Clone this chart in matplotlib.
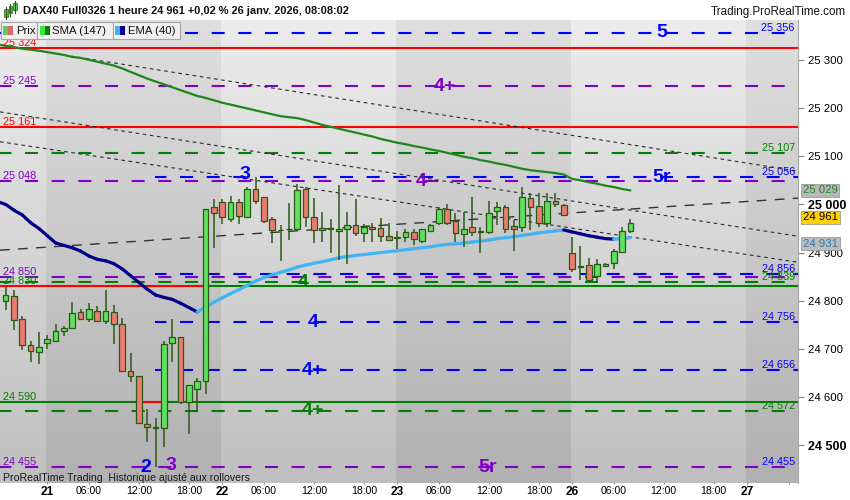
import matplotlib
matplotlib.use("Agg")
import matplotlib.pyplot as plt
import numpy as np
from matplotlib.collections import LineCollection
from matplotlib.patches import Rectangle
from matplotlib.transforms import blended_transform_factory
from matplotlib.ticker import FuncFormatter, FixedLocator

plt.rcParams['font.family'] = ['Liberation Sans', 'DejaVu Sans']
plt.rcParams['lines.scale_dashes'] = False

# ---------------- data ----------------
# hourly bars, index 0 = 21 Jan 01:00 (21 bars per trading day)
bar_idx = list(range(-5, 71))
opens = [24800, 24811, 24762, 24708, 24694,
         24712, 24716, 24737, 24743, 24776, 24762, 24778, 24758, 24776, 24751,
         24655, 24643, 24544, 24537, 24536, 24712, 24724, 24591, 24618, 24633, 24994,
         25004, 24969, 25006, 24973, 25031, 25015, 24969, 24946, 24948, 24950,
         25031, 24973, 24947, 24952, 24945, 24950, 24957, 24940, 24954, 24952, 24934,
         24931, 24933, 24942, 24925, 24945, 24961, 24990, 24966, 24938, 24953,
         24943, 24943, 24987, 24995, 24955, 24954, 25013, 24997, 24961, 25008, 24999,
         24900, 24870, 24874, 24851, 24873, 24878, 24902, 24945]
highs = [24828, 24822, 24768, 24717, 24735,
         24729, 24752, 24748, 24797, 24782, 24795, 24789, 24822, 24791, 24764,
         24691, 24643, 24576, 24556, 24716, 24762, 24724, 24625, 24639, 24990, 25011,
         25011, 25017, 25011, 25036, 25056, 25015, 24973, 24957, 25002, 25042,
         25036, 25013, 24985, 24969, 25040, 24985, 25011, 24959, 24962, 24971, 24961,
         24945, 24950, 24950, 24950, 24959, 24995, 25001, 24982, 24985, 25015,
         24953, 25008, 25006, 24999, 24968, 25036, 25024, 25023, 25023, 25024, 25001,
         24932, 24914, 24888, 24886, 24878, 24908, 24954, 24969]
lows = [24781, 24739, 24698, 24674, 24668,
        24701, 24716, 24728, 24743, 24761, 24755, 24755, 24751, 24710, 24655,
        24632, 24544, 24508, 24455, 24496, 24674, 24586, 24523, 24569, 24606, 24910,
        24959, 24963, 24960, 24973, 25000, 24961, 24919, 24883, 24926, 24950,
        24954, 24919, 24923, 24900, 24885, 24876, 24935, 24923, 24923, 24923, 24926,
        24908, 24923, 24916, 24920, 24944, 24957, 24958, 24923, 24912, 24935,
        24899, 24938, 24957, 24941, 24904, 24943, 24947, 24953, 24954, 24994, 24976,
        24860, 24843, 24838, 24840, 24872, 24867, 24899, 24940]
closes = [24813, 24760, 24708, 24695, 24704,
          24720, 24737, 24743, 24774, 24762, 24782, 24758, 24778, 24751, 24655,
          24643, 24546, 24538, 24538, 24710, 24724, 24591, 24625, 24633, 24990, 24982,
          24973, 25006, 24975, 25033, 25008, 24965, 24946, 24947, 24950, 25029,
          24973, 24947, 24952, 24948, 24950, 24957, 24941, 24954, 24948, 24934, 24926,
          24931, 24942, 24928, 24948, 24957, 24990, 24961, 24940, 24950, 24943,
          24944, 24983, 24995, 24950, 24950, 25016, 24995, 24962, 25008, 25001, 24978,
          24867, 24872, 24843, 24876, 24876, 24904, 24945, 24961]

line_idx = list(range(-6, 71))
sma147 = [25332, 25329, 25326, 25323, 25321, 25319,
          25316, 25313, 25310, 25306, 25304, 25300, 25296, 25292, 25288, 25282,
          25275, 25268, 25261, 25255, 25249, 25243, 25237, 25231, 25225, 25221, 25216,
          25211, 25207, 25203, 25199, 25195, 25191, 25187, 25183, 25181, 25179,
          25175, 25170, 25165, 25161, 25157, 25153, 25149, 25145, 25141, 25136, 25132,
          25128, 25125, 25121, 25118, 25114, 25111, 25107, 25103, 25099, 25096,
          25092, 25089, 25085, 25082, 25078, 25074, 25071, 25069, 25067, 25065, 25062,
          25053, 25050, 25046, 25043, 25039, 25036, 25032, 25029]
ema40 = [25006, 25000, 24988, 24978, 24962, 24950,
         24935, 24920, 24915, 24910, 24903, 24893, 24886, 24883, 24877, 24866,
         24852, 24838, 24824, 24812, 24807, 24803, 24795, 24786, 24777, 24787, 24797,
         24806, 24815, 24823, 24832, 24841, 24848, 24854, 24859, 24864, 24870,
         24874, 24878, 24881, 24885, 24889, 24892, 24894, 24896, 24898, 24900, 24902,
         24904, 24906, 24908, 24910, 24912, 24915, 24917, 24918, 24920, 24922,
         24924, 24926, 24929, 24931, 24933, 24936, 24938, 24941, 24943, 24945, 24947,
         24943, 24939, 24935, 24932, 24929, 24928, 24929, 24931]

tick_idx = [0, 5, 11, 17, 21, 26, 32, 38, 42, 47, 53, 59, 63, 68, 74, 80, 84, 89]
tick_labels = ['21', '06:00', '12:00', '18:00', '22', '06:00', '12:00', '18:00',
               '23', '06:00', '12:00', '18:00', '26', '06:00', '12:00', '18:00', '27', '']
day_start_idx = [0, 21, 42, 63, 84]
price_ticks = [24500, 24600, 24700, 24800, 24900, 25000, 25100, 25200, 25300]

# horizontal levels
dashed_levels = [25356, 25245, 25107, 25056, 25048, 24856, 24850, 24839, 24756, 24656, 24572, 24455]
solid_red_levels = [25324, 25161]
support_level = 24830
support2_level = 24590

# trend lines: price at left edge / right edge of the window
trend_left = [25331, 25192, 25130]
trend_right = [25069, 24934, 24880]
rising_left, rising_right = 24905, 25013

right_labels = [(25356, '25 356', 'b'), (25107, '25 107', 'g'), (25056, '25 056', 'b'),
                (24856, '24 856', 'b'), (24839, '24 839', 'g'), (24756, '24 756', 'b'),
                (24656, '24 656', 'b'), (24572, '24 572', 'g'), (24455, '24 455', 'b')]
left_labels = [(25324, '25 324', 'r'), (25245, '25 245', 'p'), (25161, '25 161', 'r'),
               (25048, '25 048', 'p'), (24850, '24 850', 'p'), (24830, '24 830', 'g'),
               (24590, '24 590', 'g'), (24455, '24 455', 'p')]
marker_labels = [('5', 73.8, 25356, 'b'), ('4+', 47.7, 25245, 'p'), ('5r', 73.8, 25056, 'b'),
                 ('4', 44.9, 25048, 'p'), ('3', 23.7, 25062, 'b'), ('4', 30.7, 24839, 'g'),
                 ('4', 31.9, 24756, 'b'), ('4+', 31.9, 24656, 'b'), ('4+', 31.9, 24572, 'g'),
                 ('2', 11.8, 24455, 'b'), ('3', 14.8, 24458, 'p'), ('5r', 52.8, 24455, 'p')]

# ---------------- styles ----------------
COL = {'b': '#0000ff', 'p': '#8000c8', 'g': '#008000', 'r': '#ff0000'}
LVL_COL = ['b', 'p', 'g', 'b', 'p', 'b', 'p', 'g', 'b', 'b', 'g', 'p']
LVL_START = [None, None, None, 12.9, None, 12.9, None, None, 12.9, 12.9, None, None]
UP, DOWN, EDGE = '#5fe05f', '#ee7b73', '#2b5a16'

XMIN, XMAX = -5.68, 90.12
YMIN, YMAX = 24422, 25382.6

fig = plt.figure(figsize=(8.5, 5), dpi=100, facecolor='white')
ax = fig.add_axes([0, 17 / 500, 798 / 850, 463 / 500])
ax.set_xlim(XMIN, XMAX)
ax.set_ylim(YMIN, YMAX)

# background bands with vertical gradient
edges = [XMIN] + [d - 0.15 for d in day_start_idx] + [XMAX]
light = (np.array([236, 236, 236]) / 255, np.array([191, 191, 191]) / 255)
dark = (np.array([223, 223, 223]) / 255, np.array([177, 177, 177]) / 255)
t = np.linspace(0, 1, 256).reshape(-1, 1, 1)
for k in range(len(edges) - 1):
    top, bot = light if k % 2 == 0 else dark
    img = top * (1 - t) + bot * t
    ax.imshow(img, extent=(edges[k], edges[k + 1], YMIN, YMAX), origin='upper',
              aspect='auto', zorder=0, interpolation='bilinear')

DASH = (1.2, (9.4, 9.8))
for lv, c, st in zip(dashed_levels, LVL_COL, LVL_START):
    x0 = XMIN if st is None else st
    ax.hlines(lv, x0, XMAX, colors=COL[c], linewidth=1.5, linestyles=[DASH], zorder=2)

for lv in solid_red_levels:
    ax.hlines(lv, XMIN, XMAX, colors=COL['r'], linewidth=1.5, zorder=2)
ax.hlines(support_level, XMIN, 18.7, colors=COL['r'], linewidth=1.5, zorder=2)
ax.hlines(support_level, 18.7, XMAX, colors=COL['g'], linewidth=1.5, zorder=2)
ax.hlines(support2_level, XMIN, XMAX, colors=COL['g'], linewidth=1.5, zorder=2)
ax.hlines(support2_level, 10.8, 13.9, colors=COL['r'], linewidth=1.5, zorder=2.1)

for pl, pr in zip(trend_left, trend_right):
    ax.plot([XMIN, XMAX], [pl, pr], color='#2a2a2a', lw=0.8, ls=(0, (2.6, 2.6)), zorder=2.5)
ax.plot([XMIN, XMAX], [rising_left, rising_right], color='#333333', lw=1.0,
        ls=(0, (7, 6)), zorder=2.5)

# SMA
ax.plot(line_idx, sma147, color='#1f861f', lw=1.6, zorder=3, solid_capstyle='round')

# EMA coloured by direction
pts = np.column_stack([line_idx, ema40])
segs = np.stack([pts[:-1], pts[1:]], axis=1)
ecols = ['#40b4f4' if ema40[k + 1] >= ema40[k] else '#000088' for k in range(len(ema40) - 1)]
ax.add_collection(LineCollection(segs, colors=ecols, linewidths=2.3, zorder=3,
                                 capstyle='round', joinstyle='round'))

# candles
o = np.array(opens); c = np.array(closes); h = np.array(highs); l = np.array(lows)
bx = np.array(bar_idx)
ax.vlines(bx, l, h, colors=EDGE, linewidth=1.1, zorder=4)
fills = [UP if cc >= oo else DOWN for oo, cc in zip(o, c)]
bottom = np.minimum(o, c)
height = np.maximum(np.abs(c - o), 0.6)
ax.bar(bx, height, bottom=bottom, width=0.68, color=fills, edgecolor=EDGE,
       linewidth=0.9, zorder=5)

# level text labels
btr = blended_transform_factory(ax.transAxes, ax.transData)
for lv, txt, c in right_labels:
    ax.text(0.996, lv, txt, transform=btr, ha='right', va='bottom', fontsize=7.8,
            color=COL[c], zorder=6)
for lv, txt, c in left_labels:
    ax.text(0.004, lv, txt, transform=btr, ha='left', va='bottom', fontsize=7.8,
            color=COL[c], zorder=6)
for txt, xi, lv, c in marker_labels:
    ax.text(xi, lv, txt, ha='center', va='center', fontsize=14, fontweight='bold',
            color=COL[c], zorder=7)

ax.text(0.004, 24455 - 22, 'ProRealTime Trading  Historique ajusté aux rollovers',
        transform=btr, ha='left', va='center', fontsize=7.6, color='#1a1a1a', zorder=7)

# axes
for s in ['top', 'left', 'bottom']:
    ax.spines[s].set_visible(False)
ax.spines['right'].set_color('#a8a8a8')
ax.spines['right'].set_linewidth(0.8)
ax.yaxis.tick_right()
ax.yaxis.set_major_locator(FixedLocator(price_ticks))
ax.yaxis.set_major_formatter(FuncFormatter(lambda v, p: f"{int(v):,}".replace(',', ' ')))
ax.tick_params(axis='y', length=4, width=0.8, color='#808080', pad=3, labelsize=8.2)
for lab in ax.get_yticklabels():
    if lab.get_text() in ('25 000', '24 500'):
        lab.set_fontweight('bold')
        lab.set_fontsize(9)
ax.set_xticks(tick_idx)
ax.set_xticklabels(tick_labels)
ax.tick_params(axis='x', length=2, width=0.8, color='#909090', pad=1, labelsize=7.6,
               direction='inout')
for lab in ax.get_xticklabels():
    if lab.get_text() in ('21', '22', '23', '26', '27'):
        lab.set_fontweight('bold')
        lab.set_fontsize(8.6)

# value boxes on the price axis
def value_box(val, txtcol, face, dy):
    ax.annotate(f"{val:,}".replace(',', ' '), xy=(1.0, val), xycoords=btr,
                xytext=(3.5, dy), textcoords='offset points', ha='left', va='center',
                fontsize=8.2, color=txtcol, annotation_clip=False, zorder=8,
                bbox=dict(boxstyle='square,pad=0.15', fc=face, ec='#9a9a9a', lw=0.6))

value_box(sma147[-1], '#1f861f', '#b8b8b8', 0)
value_box(closes[-1], '#000000', '#ffd200', 4.3)
value_box(ema40[-1], '#2a7ab8', '#bdbdbd', -4.3)

# ---------------- header / legend overlay ----------------
ov = fig.add_axes([0, 0, 1, 1], zorder=10)
ov.set_xlim(0, 850)
ov.set_ylim(500, 0)
ov.axis('off')

# candle icon
for (cx, y0, y1, w0, w1) in [(6, 9, 17, 7, 19), (10.5, 6, 13, 4, 16), (15, 3, 10, 1, 13)]:
    ov.plot([cx, cx], [w0, w1], color=EDGE, lw=0.8)
    ov.add_patch(Rectangle((cx - 1.6, y0), 3.2, y1 - y0, fc='#50c850', ec=EDGE, lw=0.5))
ov.text(23, 11.5, 'DAX40 Full0326 1 heure 24 961 +0,02 % 26 janv. 2026, 08:08:02',
        fontsize=7.9, fontweight='bold', va='center', ha='left', color='#111111')
ov.text(846, 11.5, 'Trading.ProRealTime.com', fontsize=8.4, va='center', ha='right',
        color='#111111')

legend_items = [('Prix', '#5ccf5c', '#e06868', 0.7, 37.3),
                ('SMA (147)', '#3ce63c', '#0a800a', 37.3, 112.7),
                ('EMA (40)', '#40b4f4', '#000094', 112.7, 180.0)]
for name, c1, c2, x0, x1 in legend_items:
    ov.add_patch(Rectangle((x0, 21.7), x1 - x0, 17.6, fc='#f0f0f0', ec='#a6a6a6', lw=0.8))
    ov.add_patch(Rectangle((x0 + 2.3, 26), 5, 9, fc=c1, ec='none'))
    ov.add_patch(Rectangle((x0 + 7.3, 26), 5, 9, fc=c2, ec='none'))
    ov.text(x0 + 15, 30.7, name, fontsize=8.2, va='center', ha='left', color='#111111')

fig.savefig('out.png', dpi=100, facecolor='white')
